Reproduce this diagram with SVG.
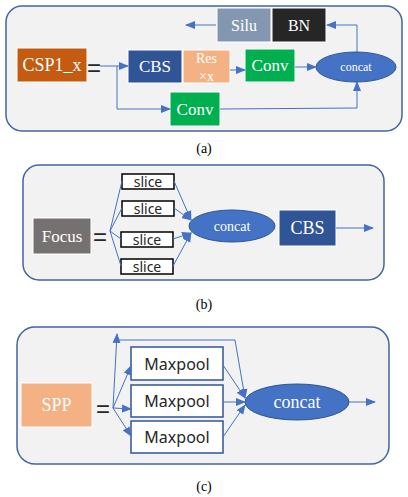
<svg xmlns="http://www.w3.org/2000/svg" width="408" height="497" viewBox="0 0 408 497">
<style>
.panel{fill:#F2F2F2;stroke:#41659E;stroke-width:1.5}
.box{stroke:#FFFFFF;stroke-width:1}
.t{font-family:"Liberation Serif",serif;fill:#FFFFFF;text-anchor:middle;dominant-baseline:central}
.s{font-family:"Noto Sans","Liberation Sans",sans-serif;fill:#262626;text-anchor:middle;dominant-baseline:central}
.eq{font-family:"Liberation Sans",sans-serif;fill:#262626;text-anchor:middle;dominant-baseline:central;font-size:24px}
.cap{font-family:"Liberation Serif",serif;fill:#000;text-anchor:middle;font-size:14px}
.c{fill:none;stroke:#4472C4;stroke-width:1}
.ca{fill:none;stroke:#4472C4;stroke-width:1;marker-end:url(#ah)}
</style>
<defs>
<marker id="ah" markerUnits="userSpaceOnUse" markerWidth="10" markerHeight="10" viewBox="0 0 10 10" refX="9" refY="5" orient="auto">
<path d="M0,1 L10,5 L0,9 Z" fill="#4472C4"/>
</marker>
</defs>

<!-- Panel (a) -->
<rect class="panel" x="6" y="6" width="396" height="125" rx="16"/>
<g id="csp1x"><rect class="box" x="17" y="48" width="70" height="34" fill="#C55A11"/><text class="t" x="52" y="65" font-size="18">CSP1_x</text></g>
<text class="eq" x="94" y="67">=</text>
<g id="cbs-a"><rect class="box" x="128" y="50" width="54" height="33" fill="#2F5597"/><text class="t" x="155" y="66.5" font-size="17">CBS</text></g>
<g id="res"><rect class="box" x="183" y="50" width="47" height="33" fill="#F4B183"/><text class="t" x="206.5" y="58" font-size="14">Res</text><text class="t" x="206.5" y="76" font-size="14">×x</text></g>
<g id="conv-a1"><rect class="box" x="245" y="49" width="50" height="33" fill="#00B050"/><text class="t" x="270" y="65.5" font-size="17">Conv</text></g>
<g id="conv-a2"><rect class="box" x="170" y="92" width="50" height="34" fill="#00B050"/><text class="t" x="195" y="109" font-size="17">Conv</text></g>
<g id="concat-a"><ellipse cx="356" cy="67" rx="40" ry="15" fill="#4472C4" stroke="#2F5597" stroke-width="1"/><text class="t" x="356" y="67" font-size="12">concat</text></g>
<g id="silu"><rect class="box" x="217" y="8" width="54" height="34" fill="#8497B0"/><text class="t" x="244" y="25" font-size="16">Silu</text></g>
<g id="bn"><rect class="box" x="272" y="8" width="54" height="34" fill="#262626"/><text class="t" x="299" y="25" font-size="16">BN</text></g>

<!-- Panel (b) -->
<rect class="panel" x="23" y="165" width="361" height="115" rx="16"/>
<g id="focus"><rect class="box" x="33" y="218" width="58" height="36" fill="#767171"/><text class="t" x="62" y="236" font-size="17">Focus</text></g>
<text class="eq" x="100" y="236">=</text>
<g id="slice1"><rect x="122" y="174" width="52" height="15" fill="#FFFFFF" stroke="#000" stroke-width="1.5"/><text class="s" x="148" y="181.5" font-size="14">slice</text></g>
<g id="slice2"><rect x="122" y="201" width="52" height="15" fill="#FFFFFF" stroke="#000" stroke-width="1.5"/><text class="s" x="148" y="208.5" font-size="14">slice</text></g>
<g id="slice3"><rect x="121" y="232" width="52" height="15" fill="#FFFFFF" stroke="#000" stroke-width="1.5"/><text class="s" x="147" y="239.5" font-size="14">slice</text></g>
<g id="slice4"><rect x="121" y="259" width="52" height="15" fill="#FFFFFF" stroke="#000" stroke-width="1.5"/><text class="s" x="147" y="266.5" font-size="14">slice</text></g>
<g id="concat-b"><ellipse cx="232" cy="226" rx="43" ry="16" fill="#4472C4" stroke="#2F5597" stroke-width="1"/><text class="t" x="232" y="226" font-size="14">concat</text></g>
<g id="cbs-b"><rect class="box" x="279" y="210" width="57" height="36" fill="#2F5597"/><text class="t" x="307.5" y="228" font-size="18">CBS</text></g>

<!-- Panel (c) -->
<rect class="panel" x="17" y="327" width="372" height="137" rx="18"/>
<g id="spp"><rect class="box" x="21" y="383" width="71" height="44" fill="#F4B183"/><text class="t" x="56.5" y="405" font-size="18">SPP</text></g>
<text class="eq" x="103" y="408">=</text>
<g id="maxpool1"><rect x="131" y="347" width="92" height="33" fill="#FFFFFF" stroke="#2F5597" stroke-width="1.5"/><text class="s" x="177" y="363.5" font-size="16">Maxpool</text></g>
<g id="maxpool2"><rect x="131" y="385" width="92" height="32" fill="#FFFFFF" stroke="#2F5597" stroke-width="1.5"/><text class="s" x="177" y="401" font-size="16">Maxpool</text></g>
<g id="maxpool3"><rect x="131" y="421" width="92" height="32" fill="#FFFFFF" stroke="#2F5597" stroke-width="1.5"/><text class="s" x="177" y="437" font-size="16">Maxpool</text></g>
<g id="concat-c"><ellipse cx="297" cy="402" rx="52" ry="18" fill="#4472C4" stroke="#2F5597" stroke-width="1"/><text class="t" x="297" y="402" font-size="18">concat</text></g>

<!-- Connectors -->
<g id="connectors">
<path class="ca" d="M100,66 H128"/>
<path class="ca" d="M117,66 V109 H170"/>
<path class="ca" d="M230,70 H245"/>
<path class="ca" d="M295,67 H316"/>
<path class="ca" d="M220,109 L357,108 V82"/>
<path class="ca" d="M357,52 V25 H327"/>
<path class="ca" d="M216,25 H186"/>

<path class="c" d="M110,231 L122,181 M110,231 L122,208 M110,231 L121,239 M110,231 L121,266"/>
<path class="ca" d="M174,181 L191,220"/>
<path class="ca" d="M174,208 L191,220"/>
<path class="ca" d="M173,239 L191,233"/>
<path class="ca" d="M173,266 L191,233"/>
<path class="ca" d="M336,228 H373"/>

<path class="ca" d="M113,408 L117,334"/>
<path class="ca" d="M113,408 L131,366"/>
<path class="ca" d="M113,408 L131,409"/>
<path class="ca" d="M113,408 L131,436"/>
<path class="ca" d="M116,340 H235 L245,398"/>
<path class="ca" d="M223,365 L245,398"/>
<path class="ca" d="M223,402 L245,402"/>
<path class="ca" d="M223,437 L245,405"/>
<path class="ca" d="M349,402 H375"/>
</g>

<text class="cap" x="204" y="153">(a)</text>
<text class="cap" x="204" y="309">(b)</text>
<text class="cap" x="204" y="491">(c)</text>
</svg>
